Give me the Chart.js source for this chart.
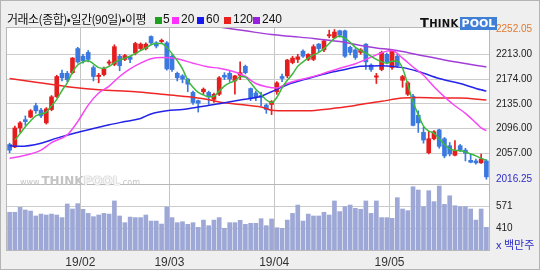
<!DOCTYPE html>
<html>
<head>
<meta charset="utf-8">
<script src="https://cdn.jsdelivr.net/npm/chart.js@4.4.0/dist/chart.umd.min.js"></script>
<style>
  html, body { margin: 0; padding: 0; }
  body { width: 540px; height: 270px; overflow: hidden; background: #efefef; position: relative;
         font-family: 'Noto Sans CJK KR', sans-serif; }
  canvas { position: absolute; left: 0; top: 0; }
  .frame { position: absolute; left: 0; top: 0; width: 540px; height: 270px; box-sizing: border-box;
           border: 1px solid #b4b4b4; pointer-events: none; }
  .hd { position: absolute; top: 11px; font-size: 12px; line-height: 16px; color: #111; white-space: nowrap; }
  .sq { position: absolute; top: 17px; width: 7px; height: 7px; }
  .num { position: absolute; top: 12px; font: 12px 'Liberation Sans', sans-serif; line-height: 14px; color: #111; }
  .logo { position: absolute; left: 420px; top: 12px; height: 13px; white-space: nowrap; font-family: 'DejaVu Sans', sans-serif; font-weight: bold; }
  .logo .think { font-size: 10px; color: #111; letter-spacing: 0.3px; }
  .logo .think b { font-size: 13px; }
  .logo .pool { background: #3f7fd6; color: #fff; font-size: 11px; padding: 0 2px; margin-left: 1px; }
  .wm { position: absolute; left: 20px; top: 170px; white-space: nowrap; color: #c4c4c4; font-family: 'DejaVu Sans', sans-serif; font-weight: bold; }
  .wm .s { font-size: 8px; font-weight: normal; }
  .wm .b { font-size: 12px; }
  .wm .o { font-size: 12px; color: #f4f4f4; text-shadow: 0 0 1px #aaa, 0 0 1px #aaa; }
</style>
</head>
<body>
<canvas id="c" width="540" height="270"></canvas>
<div class="hd" style="left:7px; letter-spacing:-0.5px;">거래소(종합)•일간(90일)•이평</div>
<div class="sq" style="left:155px; background:#20a020;"></div><div class="num" style="left:163px;">5</div>
<div class="sq" style="left:172px; background:#ff30ff;"></div><div class="num" style="left:181px;">20</div>
<div class="sq" style="left:197px; background:#1818f0;"></div><div class="num" style="left:206px;">60</div>
<div class="sq" style="left:224px; background:#e82020;"></div><div class="num" style="left:233px;">120</div>
<div class="sq" style="left:253px; background:#9a20e0;"></div><div class="num" style="left:262px;">240</div>
<div class="logo"><span class="think"><b>T</b>HINK</span><span class="pool">POOL</span></div>
<div class="wm"><span class="s">www.</span><span class="b">THINK</span><span class="o">POOL</span><span class="s">.com</span></div>
<div class="frame"></div>
<script>
const monthLabels = ['19/01', '19/02', '19/03', '19/04', '19/05'];
const monthDays = [14, 17, 20, 22, 19];

const open = [2071,2067,2097,2110,2114,2132,2125,2105,2126,2146,
  2183,2183,2184,2222,2210,2216,2192,2178,2181,2199,
  2197,2210,2205,2209,2215,2222,2222,2241,2231,2233,
  2231,2210,2183,2179,2174,2153,2140,2154,2153,2142,
  2150,2180,2183,2171,2180,2194,2159,2152,2148,2133,
  2134,2154,2178,2179,2200,2205,2218,2205,2205,2229,
  2220,2242,2239,2250,2250,2224,2220,2216,2229,2196,
  2177,2189,2213,2192,2210,2172,2150,2147,2117,2090,
  2058,2080,2094,2080,2069,2054,2069,2062,2046,2045,
  2042,2045];
const high = [2073,2100,2107,2116,2126,2136,2128,2129,2148,2180,
  2188,2186,2208,2224,2213,2219,2195,2183,2193,2204,
  2228,2213,2213,2210,2232,2231,2231,2242,2233,2237,
  2233,2212,2185,2181,2175,2155,2141,2160,2155,2152,
  2178,2184,2186,2180,2201,2196,2160,2155,2153,2135,
  2140,2170,2182,2205,2210,2213,2220,2214,2228,2230,
  2236,2251,2252.05,2251,2251,2226,2222,2222,2230,2198,
  2183,2218,2215,2221,2213,2180,2170,2150,2124,2098,
  2092,2093,2095,2082,2074,2077,2071,2065,2056,2048,
  2056,2047];
const low = [2058,2066,2090,2101,2113,2120,2113,2103,2124,2145,
  2171,2170,2182,2199,2199,2201,2171,2168,2179,2196,
  2195,2187,2203,2200,2212,2220,2220,2229,2223,2230,
  2188,2186,2171,2168,2154,2134,2122,2150,2134,2137,
  2148,2173,2170,2150,2173,2182,2140,2140,2132,2120,
  2118,2150,2170,2176,2198,2200,2208,2203,2203,2217,
  2217,2239,2238,2240,2208,2212,2205,2213,2189,2186,
  2167,2187,2198,2189,2192,2161,2148,2100,2090,2073,
  2056,2078,2065,2050,2053,2053,2060,2045,2042,2040,
  2041,2016.25];
const close = [2062,2097,2105,2107,2124,2124,2116,2127,2146,2178,
  2176,2173,2207,2201,2203,2205,2178,2180,2190,2201,
  2225,2195,2211,2205,2230,2229,2229,2231,2226,2235,
  2190,2189,2176,2174,2166,2137,2136,2158,2146,2150,
  2176,2177,2174,2179,2184,2184,2143,2145,2145,2126,
  2139,2168,2175,2204,2207,2209,2210,2213,2225,2222,
  2234,2244,2248,2243,2210,2216,2208,2220,2201,2189,
  2179,2216,2201,2218,2195,2178,2168,2101,2105,2078,
  2080,2091,2068,2053,2056,2061,2062,2057,2043,2042,
  2048,2020];
const volume = [525,525,561,542,534,498,512,505,512,505,
  486,586,549,588,547,517,493,505,517,512,
  608,498,449,490,486,486,505,461,461,439,
  564,486,449,456,437,449,415,468,427,468,
  486,408,449,449,466,437,444,444,478,427,
  476,412,408,468,517,578,461,512,498,498,
  525,505,608,530,566,578,554,547,608,517,
  608,486,486,481,632,549,537,712,688,566,
  683,603,717,583,646,573,566,566,549,468,
  549,415];

// moving averages: [candle index, value]
const ma5Pts = [[1,2078],[2,2088],[3,2099],[4,2108],[5,2116],[6,2119],[7,2122],[8,2132],[9,2142],[10,2156],
  [11,2168],[12,2185],[13,2196],[14,2201],[15,2203],[16,2198],[17,2192],[18,2191],[19,2194],[20,2200],
  [21,2204],[22,2207],[23,2210],[24,2214],[25,2219],[26,2223],[27,2228],[28,2230],[29,2230],[30,2224],
  [31,2214],[32,2203],[33,2190],[34,2172],[35,2161],[36,2153],[37,2149],[38,2146],[39,2147],[40,2155],
  [41,2163],[42,2168],[43,2171],[44,2178],[45,2177],[46,2168],[47,2158],[48,2150],[49,2141],[50,2137],
  [51,2145],[52,2160],[53,2172],[54,2182],[55,2194],[56,2201],[57,2207],[58,2212],[59,2216],[60,2222],
  [61,2230],[62,2238],[63,2242],[64,2238],[65,2232],[66,2224],[67,2219],[68,2215],[69,2210],[70,2205],
  [71,2201],[72,2199],[73,2202],[74,2202],[75,2191],[76,2165],[77,2138],[78,2118],[79,2100],[80,2092],
  [81,2089],[82,2080],[83,2071],[84,2064],[85,2062],[86,2061],[87,2059],[88,2056],[89,2053],[90,2049],[91,2046]];
const ma20Pts = [[0,2049],[2,2052],[6,2062],[8,2074],[11,2086],[13,2107],[15,2133],[17,2152],[19,2163],
  [21,2178],[23,2190],[25,2199],[27,2206],[29,2208],[32,2206],[35,2199],[38,2193],[40,2191],[43,2185],
  [45,2178],[47,2167],[49,2162],[51,2160],[53,2167],[55,2172],[58,2178],[60,2183],[63,2191],[66,2198],
  [68,2205],[70,2212],[72,2218],[73,2219],[75,2207],[77,2193],[79,2180],[81,2162],[83,2146],[85,2132],
  [87,2120],[89,2105],[90,2097],[91,2093]];
const ma60Pts = [[0,2069],[2,2068],[6,2073],[9,2081],[12,2088],[16,2096],[19,2102],[22,2107],[25,2112],
  [27,2119],[30,2124],[33,2126],[36,2130],[40,2135],[44,2141],[48,2147],[50,2154],[53,2165],[57,2175],
  [61,2184],[64,2189],[67,2194],[71,2195],[75,2192],[78,2186],[82,2175],[86,2167],[90,2157],[91,2155]];
const ma120Pts = [[0,2175],[5,2169],[11,2162],[17,2157],[24,2154],[29,2150],[33,2147],[37,2143],[40,2138],
  [44,2134],[48,2130],[50,2125],[53,2124],[57,2124],[61,2127],[65,2131],[67,2134],[71,2139],[75,2144],
  [78,2145],[82,2144],[86,2144],[91,2141]];
const ma240Pts = [[40,2256],[45,2250],[50,2244],[54,2241],[58,2238],[63,2233],[67,2227],[70,2223],
  [73,2220],[77,2214],[83,2204],[91,2193]];

const priceTicks = [2252.05, 2213, 2174, 2135, 2096, 2057, 2016.25];
const volTicks = [410, 571];
const unitTick = 285;

const UP = '#e41e1e', DOWN = '#3b78e0';

const labels = [];
const monthStart = new Map();
monthLabels.forEach((m, k) => {
  for (let d = 0; d < monthDays[k]; d++) {
    if (d === 0) monthStart.set(labels.length, m);
    labels.push(m + '-' + (d + 1));
  }
});
const N = labels.length;

function sparse(pts) {
  const a = new Array(N).fill(null);
  pts.forEach(([i, v]) => { a[i] = v; });
  return a;
}

const candleColor = close.map((c, i) => c >= open[i] ? UP : DOWN);

function maLine(pts, color) {
  return {
    type: 'line', data: sparse(pts), yAxisID: 'y', borderColor: color, borderWidth: 1.5,
    pointRadius: 0, spanGaps: true, cubicInterpolationMode: 'monotone', order: 0
  };
}

const panelBox = {
  id: 'panelBox',
  beforeDraw(chart) {
    const { ctx, chartArea: a } = chart;
    ctx.save();
    ctx.fillStyle = '#ffffff';
    ctx.fillRect(a.left, a.top, a.width, a.height);
    ctx.restore();
  },
  beforeDatasetsDraw(chart) {
    const { ctx, chartArea: a, scales } = chart;
    ctx.save();
    ctx.strokeStyle = '#b8b8b8';
    ctx.lineWidth = 1;
    ctx.strokeRect(a.left - 0.5, a.top - 0.5, a.width + 1, a.height + 1);
    const yb = Math.round(scales.yv.top) - 0.5;
    ctx.beginPath();
    ctx.moveTo(a.left, yb);
    ctx.lineTo(a.right, yb);
    ctx.stroke();
    ctx.restore();
  }
};

new Chart(document.getElementById('c'), {
  type: 'bar',
  data: {
    labels: labels,
    datasets: [
      maLine(ma5Pts, '#3cb83c'),
      maLine(ma20Pts, '#f448f4'),
      maLine(ma60Pts, '#2424e8'),
      maLine(ma120Pts, '#ee2626'),
      maLine(ma240Pts, '#a23ed8'),
      {
        data: open.map((o, i) => [Math.min(o, close[i]), Math.max(o, close[i])]),
        yAxisID: 'y', backgroundColor: candleColor, barThickness: 4, minBarLength: 1,
        grouped: false, borderWidth: 0, order: 1
      },
      {
        data: low.map((l, i) => [l, high[i]]),
        yAxisID: 'y', backgroundColor: candleColor, barThickness: 1,
        grouped: false, borderWidth: 0, order: 2
      },
      {
        data: volume, yAxisID: 'yv', backgroundColor: '#9ea8d6', barThickness: 4,
        grouped: false, borderWidth: 0, order: 3
      }
    ]
  },
  options: {
    responsive: false,
    animation: false,
    devicePixelRatio: 1,
    layout: { padding: { left: 7, top: 28, right: 0, bottom: 0 } },
    plugins: { legend: { display: false }, tooltip: { enabled: false } },
    scales: {
      x: {
        offset: true,
        afterFit: s => { s.height = 20; },
        border: { display: false },
        grid: {
          offset: true, drawTicks: false,
          color: ctx => (ctx.index > 0 && monthStart.has(ctx.index)) ? '#c4c4c4' : 'rgba(0,0,0,0)'
        },
        ticks: {
          autoSkip: false, maxRotation: 0, minRotation: 0, padding: 5, labelOffset: -2.6,
          font: { family: 'Liberation Sans', size: 12 }, color: '#333',
          callback: (v, i) => (i > 0 && monthStart.has(i)) ? monthStart.get(i) : ''
        }
      },
      y: {
        position: 'right', stack: 'main', stackWeight: 157,
        min: 2007.13, max: 2254.41,
        afterBuildTicks: s => { s.ticks = priceTicks.map(v => ({ value: v })); },
        afterFit: s => { s.width = 51; },
        border: { display: false },
        grid: {
          drawTicks: false,
          color: ctx => (ctx.tick && (ctx.tick.value === priceTicks[0] || ctx.tick.value === priceTicks[priceTicks.length - 1])) ? 'rgba(0,0,0,0)' : '#cccccc'
        },
        ticks: {
          autoSkip: false,
          padding: 7,
          font: { family: 'Liberation Sans', size: 10 },
          color: ctx => ctx.tick.value === priceTicks[0] ? '#e07a30' : (ctx.tick.value === priceTicks[priceTicks.length - 1] ? '#2c2cc8' : '#222'),
          callback: v => v.toFixed(2)
        }
      },
      yv: {
        position: 'right', stack: 'main', stackWeight: 65,
        min: 249, max: 724.7,
        afterBuildTicks: s => { s.ticks = [unitTick, ...volTicks].map(v => ({ value: v })); },
        afterFit: s => { s.width = 51; },
        border: { display: false },
        grid: {
          drawTicks: false,
          color: ctx => (ctx.tick && ctx.tick.value === unitTick) ? 'rgba(0,0,0,0)' : '#cccccc'
        },
        ticks: {
          autoSkip: false,
          padding: 7,
          font: ctx => ctx.tick && ctx.tick.value === unitTick
            ? { family: 'Noto Sans CJK KR', size: 11 } : { family: 'Liberation Sans', size: 10 },
          color: ctx => ctx.tick.value === unitTick ? '#2c2cc8' : '#222',
          callback: v => v === unitTick ? 'x 백만주' : String(v)
        }
      }
    }
  },
  plugins: [panelBox]
});
</script>
</body>
</html>
